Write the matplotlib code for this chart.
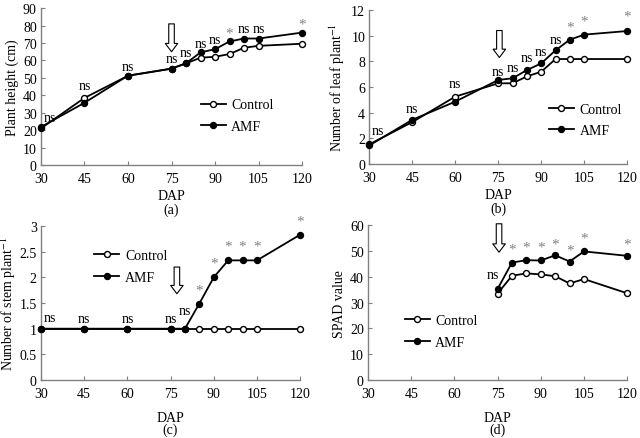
import matplotlib
matplotlib.use("Agg")
import matplotlib.pyplot as plt

plt.rcParams['font.family'] = ['Liberation Serif', 'DejaVu Serif']
plt.rcParams['mathtext.fontset'] = 'stix'
plt.rcParams['font.size'] = 10

# ---------------- data ----------------
dap = [30, 45, 60, 75, 80, 85, 90, 95, 100, 105, 120]
xticks = [30, 45, 60, 75, 90, 105, 120]

height_control = [21, 38.5, 51.2, 55.3, 58.3, 61.6, 62.1, 63.7, 67.3, 68.4, 69.6]
height_amf = [21.8, 35.7, 51.3, 55.3, 58.4, 64.6, 66.5, 70.9, 72.6, 72.6, 76.0]
height_sig = ['ns', 'ns', 'ns', 'ns', 'ns', 'ns', 'ns', '*', 'ns', 'ns', '*']

leaf_control = [1.53, 3.27, 5.25, 6.29, 6.29, 6.83, 7.19, 8.18, 8.18, 8.18, 8.18]
leaf_amf = [1.45, 3.45, 4.86, 6.55, 6.68, 7.32, 7.84, 8.86, 9.69, 10.08, 10.36]
leaf_sig = ['ns', 'ns', 'ns', 'ns', 'ns', 'ns', 'ns', 'ns', '*', '*', '*']

stem_control = [1, 1, 1, 1, 1, 1, 1, 1, 1, 1, 1]
stem_amf = [1, 1, 1, 1, 1, 1.49, 2.0, 2.33, 2.33, 2.33, 2.83]
stem_sig = ['ns', 'ns', 'ns', 'ns', 'ns', '*', '*', '*', '*', '*', '*']

dap_spad = [75, 80, 85, 90, 95, 100, 105, 120]
spad_control = [33.5, 40.4, 41.3, 40.9, 40.2, 37.4, 39.1, 33.6]
spad_amf = [35.3, 45.5, 46.4, 46.3, 48.3, 45.9, 49.8, 48.1]
spad_sig = ['ns', '*', '*', '*', '*', '*', '*', '*']

# annotation heights (data units) for significance labels
height_sig_y = [27.5, 45.5, 56.5, 61, 64.5, 70, 72, 76, 78.5, 78.5, 81]
leaf_sig_y = [2.6, 4.3, 6.3, 7.2, 7.5, 8.3, 8.8, 9.7, 10.7, 11.1, 11.5]
stem_sig_y = [1.22, 1.2, 1.2, 1.2, 1.35, 1.76, 2.27, 2.6, 2.6, 2.6, 3.1]
spad_sig_y = [41, 50.8, 51.5, 51.5, 52.5, 50.5, 55, 52.8]

spine_col = '#808080'

fig = plt.figure(figsize=(6.4, 4.39), dpi=100)

axes_pos = {
    'a': [0.064, 0.622, 0.408, 0.357],
    'b': [0.577, 0.624, 0.403, 0.351],
    'c': [0.064, 0.132, 0.405, 0.351],
    'd': [0.575, 0.132, 0.405, 0.353],
}


def style(ax, ylim, yticks, ylabel, ylabelpad=3):
    ax.set_xlim(30, 120)
    ax.set_ylim(*ylim)
    ax.set_xticks(xticks)
    ax.set_yticks(yticks)
    for s in ['top', 'right']:
        ax.spines[s].set_visible(False)
    for s in ['left', 'bottom']:
        ax.spines[s].set_color(spine_col)
        ax.spines[s].set_linewidth(1.0)
    ax.tick_params(direction='in', length=3, color=spine_col, labelsize=10)
    ax.tick_params(axis='x', pad=5)
    ax.tick_params(axis='y', pad=3)
    ax.set_ylabel(ylabel, fontsize=10, labelpad=ylabelpad)
    ax.patch.set_alpha(0)


def plot_pair(ax, x, ctrl, amf, loc_xy):
    ax.plot(x, ctrl, '-o', color='black', mfc='white', mec='black', ms=4.3, lw=1.3,
            label='Control', clip_on=False, zorder=3)
    ax.plot(x, amf, '-o', color='black', mfc='black', mec='black', ms=4.3, lw=1.3,
            label='AMF', clip_on=False, zorder=4)
    ax.legend(loc='upper left', bbox_to_anchor=loc_xy, frameon=False, fontsize=10,
              handlelength=1.8, handletextpad=0.4, labelspacing=0.6, borderaxespad=0)


def annotate_sig(ax, x, sig, ys, xoff=None):
    for i, (xi, s, yi) in enumerate(zip(x, sig, ys)):
        dx = 0 if xoff is None else xoff[i]
        col = '#808080' if s == '*' else 'black'
        ax.text(xi + dx, yi, s, ha='center', va='center', color=col,
                fontsize=10 if s == 'ns' else 11, clip_on=False)


def arrow(ax, x, ytop, ybot):
    ax.annotate('', xy=(x, ybot), xytext=(x, ytop),
                arrowprops=dict(facecolor='white', edgecolor='black', width=4,
                                headwidth=9, headlength=6, lw=0.8, shrink=0))


# (a)
ax = fig.add_axes(axes_pos['a'])
style(ax, (0, 90), range(0, 91, 10), 'Plant height (cm)')
plot_pair(ax, dap, height_control, height_amf, (0.59, 0.46))
annotate_sig(ax, dap, height_sig, height_sig_y, [3, 0, 0, 0, 0, 0, 0, 0, 0, 0, 0])
arrow(ax, 75, 81, 65)
ax.set_xlabel('DAP', fontsize=10, labelpad=3)
ax.text(0.5, -0.28, '(a)', transform=ax.transAxes, ha='center', va='center', fontsize=10)

# (b)
ax = fig.add_axes(axes_pos['b'])
style(ax, (0, 12), range(0, 13, 2), 'Number of leaf plant$^{-1}$')
plot_pair(ax, dap, leaf_control, leaf_amf, (0.675, 0.435))
annotate_sig(ax, dap, leaf_sig, leaf_sig_y, [3, 0, 0, 0, 0, 0, 0, 0, 0, 0, 0])
arrow(ax, 75.4, 10.4, 8.3)
ax.set_xlabel('DAP', fontsize=10, labelpad=3)
ax.text(0.5, -0.29, '(b)', transform=ax.transAxes, ha='center', va='center', fontsize=10)

# (c)
ax = fig.add_axes(axes_pos['c'])
style(ax, (0, 3), [0, 0.5, 1, 1.5, 2, 2.5, 3], 'Number of stem plant$^{-1}$', ylabelpad=1)
ax.set_yticklabels(['0', '0.5', '1', '1.5', '2', '2.5', '3'])
plot_pair(ax, dap, stem_control, stem_amf, (0.185, 0.885))
annotate_sig(ax, dap, stem_sig, stem_sig_y, [3, 0, 0, 0, 0, 0, 0, 0, 0, 0, 0])
arrow(ax, 77.2, 2.2, 1.68)
ax.set_xlabel('DAP', fontsize=10, labelpad=8)
ax.text(0.5, -0.32, '(c)', transform=ax.transAxes, ha='center', va='center', fontsize=10)

# (d)
ax = fig.add_axes(axes_pos['d'])
style(ax, (0, 60), range(0, 61, 10), 'SPAD value')
plot_pair(ax, dap_spad, spad_control, spad_amf, (0.12, 0.46))
annotate_sig(ax, dap_spad, spad_sig, spad_sig_y, [-1.5, 0, 0, 0, 0, 0, 0, 0])
arrow(ax, 75.5, 60.5, 49.5)
ax.set_xlabel('DAP', fontsize=10, labelpad=8)
ax.text(0.5, -0.32, '(d)', transform=ax.transAxes, ha='center', va='center', fontsize=10)

fig.savefig('out.png', dpi=100)
